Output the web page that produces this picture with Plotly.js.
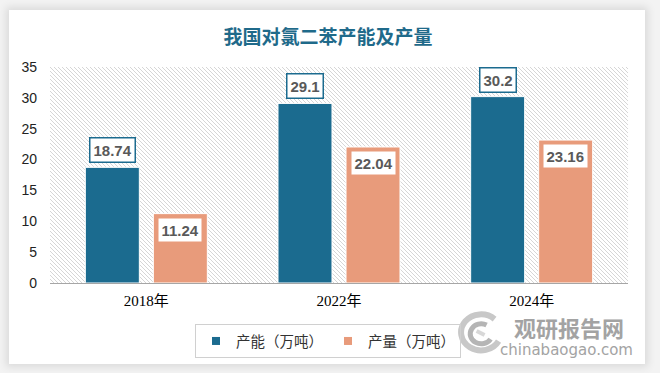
<!DOCTYPE html>
<html>
<head>
<meta charset="utf-8">
<script src="https://cdn.plot.ly/plotly-3.0.1.min.js"></script>
<style>
html,body{margin:0;padding:0;width:660px;height:373px;overflow:hidden;background:#f3f3f3;}
#card{position:absolute;left:9px;top:10px;width:636px;height:354px;background:#fff;box-shadow:0 0 8px 3px rgba(0,0,0,0.10);}
#chart{position:absolute;left:0;top:0;width:660px;height:373px;}
</style>
</head>
<body>
<div id="card"></div>
<div id="chart"></div>
<script>
var categories = ['2018年', '2022年', '2024年'];
var capacity = [18.74, 29.1, 30.2];
var output = [11.24, 22.04, 23.16];
var seriesNames = ['产能（万吨）', '产量（万吨）'];
var colors = ['#1b6b8f', '#e89b7b'];

var hatch = 'data:image/svg+xml;utf8,' + encodeURIComponent(
  '<svg xmlns="http://www.w3.org/2000/svg" width="578" height="216">' +
  '<defs><pattern id="p" width="4" height="4" patternUnits="userSpaceOnUse">' +
  '<path d="M-1,-1 L5,5 M-1,3 L1,5 M3,-1 L5,1" stroke="#d6d6d6" stroke-width="1"/>' +
  '</pattern></defs><rect width="578" height="216" fill="url(#p)"/></svg>');

var swirl = 'data:image/svg+xml;utf8,' + encodeURIComponent(
  '<svg xmlns="http://www.w3.org/2000/svg" width="48" height="46" viewBox="0 0 48 46">' +
  '<path d="M40,8 A20,18 0 1 0 44,30" fill="none" stroke="#c8c8c8" stroke-width="6"/>' +
  '<path d="M32,14 A11,10 0 1 0 36,28" fill="none" stroke="#b5b5b5" stroke-width="5"/>' +
  '<path d="M22,20 L30,24" fill="none" stroke="#d8d8d8" stroke-width="4"/>' +
  '</svg>');

var traces = [
  {type: 'bar', name: seriesNames[0], x: categories, y: capacity, showlegend: false,
   marker: {color: colors[0], line: {color: '#ffffff', width: 1}}, hoverinfo: 'none'},
  {type: 'bar', name: seriesNames[1], x: categories, y: output, showlegend: false,
   marker: {color: colors[1], line: {color: '#ffffff', width: 1}}, hoverinfo: 'none'},
  {type: 'scatter', mode: 'markers', name: seriesNames[0], x: [null], y: [null],
   marker: {symbol: 'square', size: 8, color: colors[0]}, hoverinfo: 'none'},
  {type: 'scatter', mode: 'markers', name: seriesNames[1], x: [null], y: [null],
   marker: {symbol: 'square', size: 8, color: colors[1]}, hoverinfo: 'none'}
];

var annotations = [];
categories.forEach(function (c, i) {
  annotations.push({x: c, y: capacity[i], xref: 'x', yref: 'y', xshift: -34, yshift: 4,
    yanchor: 'bottom', text: '<b>' + capacity[i] + '</b>', showarrow: false,
    font: {family: 'Liberation Sans, Arial, sans-serif', size: 15, color: '#595959'},
    bgcolor: '#ffffff', bordercolor: colors[0], borderwidth: 1.5, borderpad: 3});
  annotations.push({x: c, y: output[i], xref: 'x', yref: 'y', xshift: 34, yshift: -3,
    yanchor: 'top', text: '<b>' + output[i] + '</b>', showarrow: false,
    font: {family: 'Liberation Sans, Arial, sans-serif', size: 15, color: '#595959'},
    bgcolor: '#ffffff', bordercolor: colors[1], borderwidth: 1.5, borderpad: 3});
});
annotations.push({xref: 'paper', yref: 'paper', x: 0.898, y: -0.204, xanchor: 'center', yanchor: 'middle',
  text: '<b>观研报告网</b>', showarrow: false,
  font: {family: 'Noto Sans CJK SC, sans-serif', size: 22, color: '#a3a3a3'}});
annotations.push({xref: 'paper', yref: 'paper', x: 0.893, y: -0.31, xanchor: 'center', yanchor: 'middle',
  text: 'chinabaogao.com', showarrow: false,
  font: {family: 'DejaVu Sans, sans-serif', size: 15, color: '#a3a3a3'}});

var layout = {
  width: 660, height: 373,
  margin: {l: 50, r: 32, t: 67, b: 90},
  paper_bgcolor: 'rgba(0,0,0,0)',
  plot_bgcolor: 'rgba(0,0,0,0)',
  title: {text: '<b>我国对氯二苯产能及产量</b>', x: 0.497, xref: 'container', xanchor: 'center',
    y: 0.90, yref: 'container', yanchor: 'middle',
    font: {family: 'Noto Sans CJK SC, sans-serif', size: 19, color: '#1f6a8a'}},
  barmode: 'group',
  bargap: 0.294,
  bargroupgap: 0.206,
  showlegend: true,
  legend: {orientation: 'h', x: 0.481, xanchor: 'center', y: -0.19, yanchor: 'top',
    bordercolor: '#d0d0d0', borderwidth: 1, bgcolor: 'rgba(255,255,255,0)',
    font: {family: 'Noto Sans CJK SC, sans-serif', size: 14.5, color: '#333333'},
    itemwidth: 30, traceorder: 'normal'},
  xaxis: {type: 'category', showgrid: false, showline: true, linecolor: '#a6a6a6', linewidth: 1,
    ticks: '', ticklabelstandoff: 4,
    tickfont: {family: 'Liberation Serif, Noto Sans CJK SC, serif', size: 15, color: '#000000'}},
  yaxis: {range: [0, 35], dtick: 5, showgrid: false, zeroline: false, showline: false, ticks: '',
    ticklabelstandoff: 12,
    tickfont: {family: 'Liberation Sans, Arial, sans-serif', size: 14, color: '#222222'}},
  images: [
    {source: hatch, xref: 'paper', yref: 'paper', x: 0, y: 1, sizex: 1, sizey: 1,
     xanchor: 'left', yanchor: 'top', sizing: 'stretch', layer: 'below'},
    {source: swirl, xref: 'paper', yref: 'paper', x: 0.700, y: -0.13, sizex: 0.083, sizey: 0.213,
     xanchor: 'left', yanchor: 'top', sizing: 'stretch', layer: 'above'}
  ],
  annotations: annotations
};

Plotly.newPlot('chart', traces, layout, {displayModeBar: false, staticPlot: true});
</script>
</body>
</html>
